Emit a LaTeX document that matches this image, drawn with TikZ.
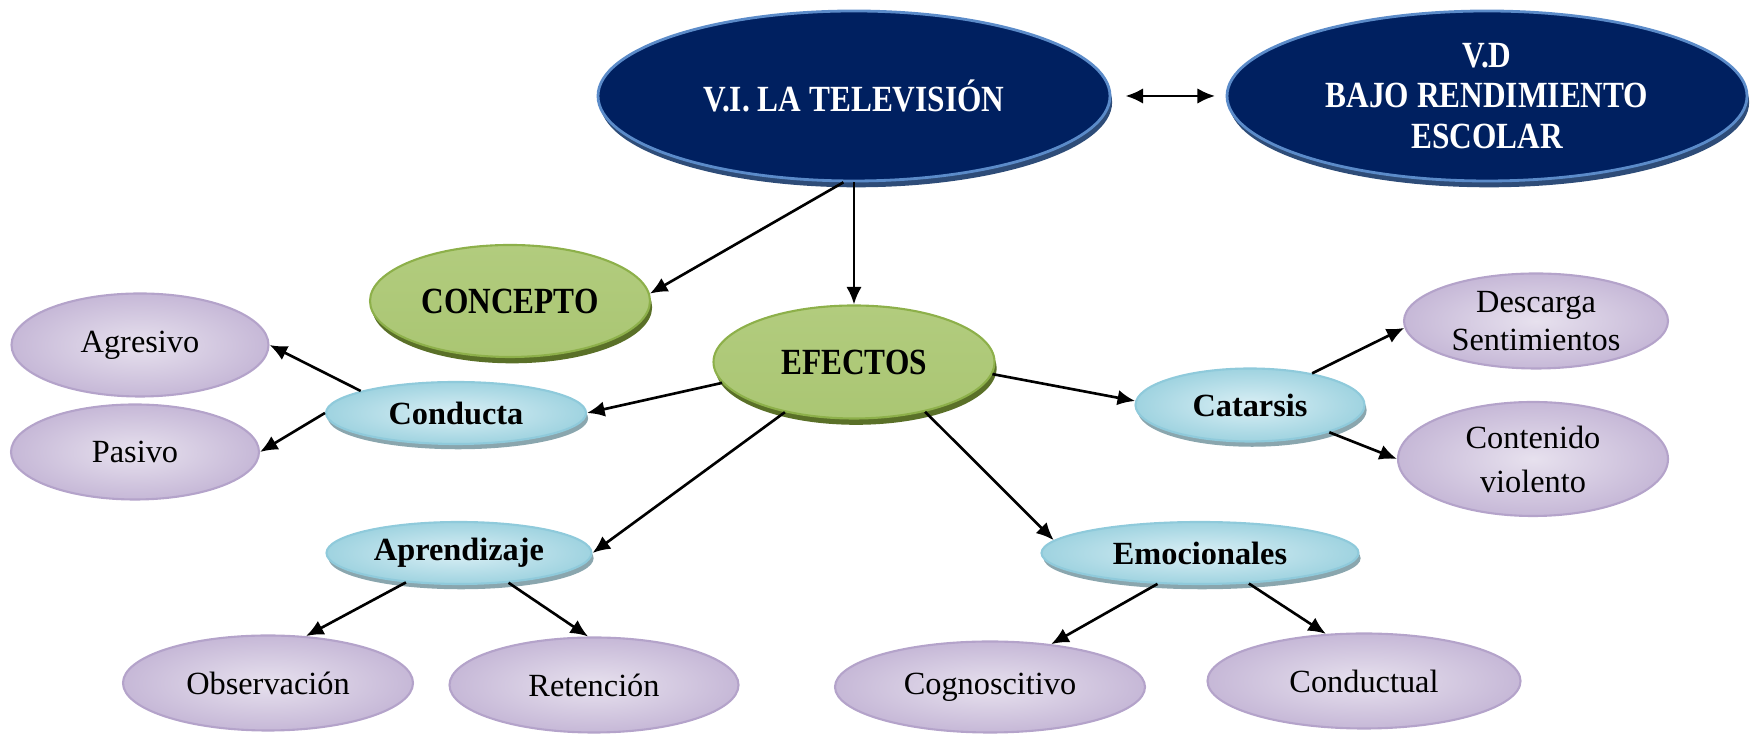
\documentclass[tikz,border=0pt]{standalone}
\usepackage{fontspec}
\setmainfont{Liberation Serif}
\newfontfamily\headfont[FakeStretch=0.85]{Liberation Serif}
\usetikzlibrary{shapes.geometric,shadows,arrows.meta}

\definecolor{tvnavy}{HTML}{002060}
\definecolor{tvrim}{HTML}{5B8BC9}
\definecolor{tvshade}{HTML}{2E4C78}
\definecolor{greentop}{HTML}{B2CC7E}
\definecolor{greenmid}{HTML}{96B753}
\definecolor{greenbot}{HTML}{AAC673}
\definecolor{greenrim}{HTML}{8DB04A}
\definecolor{greenshade}{HTML}{5A7028}
\definecolor{bluein}{HTML}{DAEFF5}
\definecolor{blueout}{HTML}{9FD3E0}
\definecolor{bluerim}{HTML}{8FCADB}
\definecolor{blueshade}{HTML}{8AA6AE}
\definecolor{lilacin}{HTML}{E7E1EE}
\definecolor{lilacout}{HTML}{C6B8D7}
\definecolor{lilacrim}{HTML}{B4A3CA}

\begin{document}
\begin{tikzpicture}
  \tikzset{
    link/.style={line width=0.75pt, -{Latex[length=5pt,width=4.4pt]}},
    both ways/.style={line width=0.75pt, {Latex[length=5pt,width=4.4pt]}-{Latex[length=5pt,width=4.4pt]}, shorten <=4pt, shorten >=3pt},
    main var/.style={ellipse, draw=tvrim, line width=0.8pt, fill=tvnavy, text=white, inner sep=0pt, align=center,
      font=\headfont\bfseries\fontsize{10.5}{11.6}\selectfont,
      drop shadow={shadow xshift=0.6pt, shadow yshift=-1.8pt, fill=tvshade, opacity=1}},
    topic box/.style={ellipse, draw=greenrim, line width=0.6pt, top color=greentop, middle color=greenmid, bottom color=greenbot, inner sep=0pt,
      font=\headfont\bfseries\fontsize{10.5}{12}\selectfont,
      drop shadow={shadow xshift=0.6pt, shadow yshift=-1.8pt, fill=greenshade, opacity=1}},
    kind box/.style={ellipse, draw=bluerim, line width=0.6pt, inner color=bluein, outer color=blueout, inner sep=0pt,
      font=\bfseries\fontsize{9.2}{11}\selectfont,
      drop shadow={shadow xshift=0.6pt, shadow yshift=-1.5pt, fill=blueshade, opacity=1}},
    leaf box/.style={ellipse, draw=lilacrim, line width=0.6pt, inner color=lilacin, outer color=lilacout, inner sep=0pt, align=center,
      font=\fontsize{9.2}{11}\selectfont}
  }
  \useasboundingbox (0,0) rectangle (17.5,7.34);

  % Variables
  \node[main var, minimum width=5.12cm, minimum height=1.70cm] (tv) at (8.54,6.38) {V.I. LA TELEVISIÓN};
  \node[main var, minimum width=5.20cm, minimum height=1.70cm] (rend) at (14.87,6.38) {V.D\\BAJO RENDIMIENTO\\ESCOLAR};
  \draw[both ways] (tv.east) -- (rend.west);

  % Concepto y efectos
  \node[topic box, minimum width=2.80cm, minimum height=1.12cm] (concepto) at (5.10,4.33) {CONCEPTO};
  \node[topic box, minimum width=2.81cm, minimum height=1.13cm] (efectos) at (8.54,3.72) {EFECTOS};

  % Tipos de efectos
  \node[kind box, minimum width=2.60cm, minimum height=0.62cm] (conducta) at (4.56,3.21) {Conducta};
  \node[kind box, minimum width=2.29cm, minimum height=0.73cm] (catarsis) at (12.50,3.29) {Catarsis};
  \node[kind box, minimum width=2.65cm, minimum height=0.62cm] (aprendizaje) at (4.59,1.81) {Aprendizaje};
  \node[kind box, minimum width=3.17cm, minimum height=0.62cm] (emocionales) at (12.00,1.81) {Emocionales};

  % Hojas
  \node[leaf box, minimum width=2.57cm, minimum height=1.03cm] (agresivo) at (1.40,3.89) {Agresivo};
  \node[leaf box, minimum width=2.48cm, minimum height=0.95cm] (pasivo) at (1.35,2.82) {Pasivo};
  \node[leaf box, minimum width=2.64cm, minimum height=0.95cm, inner ysep=-3pt] (descarga) at (15.36,4.13) {Descarga\\Sentimientos};
  \node[leaf box, minimum width=2.70cm, minimum height=1.14cm, inner ysep=-3pt] (contenido) at (15.33,2.75) {Contenido\\[1.5pt]violento};
  \node[leaf box, minimum width=2.90cm, minimum height=0.95cm] (observacion) at (2.68,0.51) {Observación};
  \node[leaf box, minimum width=2.89cm, minimum height=0.95cm] (retencion) at (5.94,0.49) {Retención};
  \node[leaf box, minimum width=3.10cm, minimum height=0.91cm] (cognoscitivo) at (9.90,0.47) {Cognoscitivo};
  \node[leaf box, minimum width=3.13cm, minimum height=0.95cm] (conductual) at (13.64,0.53) {Conductual};

  % Flechas
  \draw[link] (tv.263) -- (concepto.3);
  \draw[link] (tv.south) -- (efectos.north);
  \draw[link] (efectos.189) -- (conducta.east);
  \draw[link] (efectos.-5) -- (catarsis.178);
  \draw[link] (efectos.216) -- (aprendizaje.east);
  \draw[link] (efectos.-35) -- (emocionales.175);
  \draw[link] (conducta.167) -- (agresivo.east);
  \draw[link] (conducta.west) -- (pasivo.east);
  \draw[link] (catarsis.27) -- (descarga.183);
  \draw[link] (catarsis.-19) -- (contenido.west);
  \draw[link] (aprendizaje.209) -- (observacion.51);
  \draw[link] (aprendizaje.-31) -- (retencion.97);
  \draw[link] (emocionales.216) -- (cognoscitivo.35);
  \draw[link] (emocionales.-32) -- (conductual.129);

\end{tikzpicture}
\end{document}
